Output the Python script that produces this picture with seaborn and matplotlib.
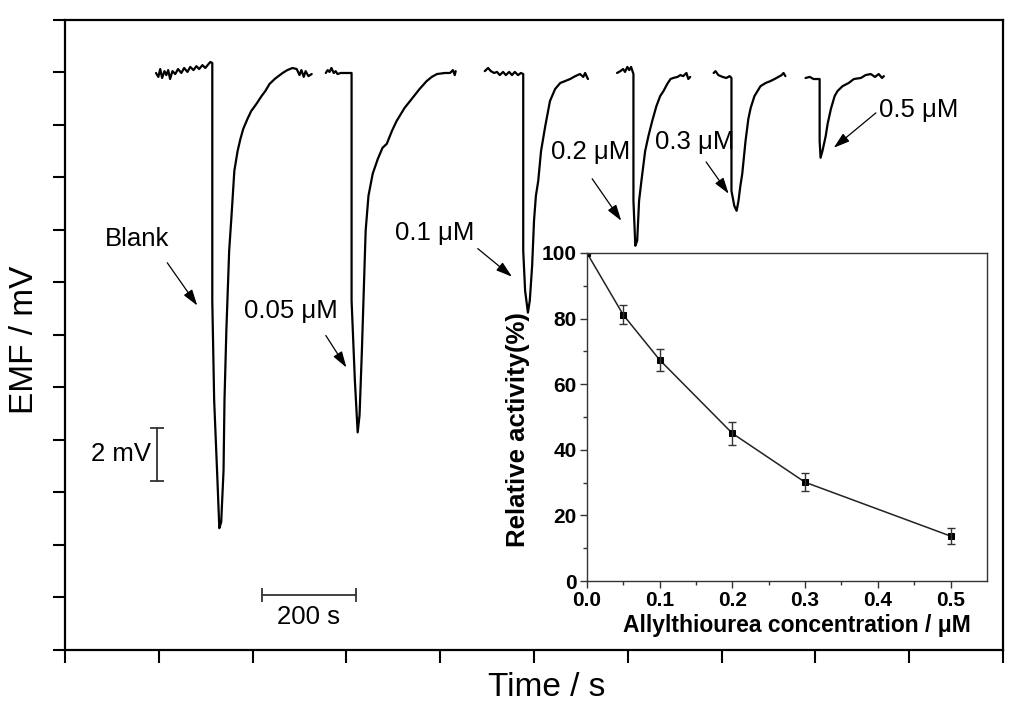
import matplotlib
matplotlib.use("Agg")
import matplotlib.pyplot as plt
import seaborn as sns
import pandas as pd

# traces: time (s) and EMF (mV)
blank_t = [194, 199, 203, 207, 212, 216, 220, 224, 229, 235, 241, 248, 254, 261, 267, 274, 280, 286, 293, 299, 306, 310, 314,
           314, 318, 325, 329, 333, 338, 340, 344, 350, 355, 361, 368, 374, 380, 389, 397, 408, 419, 427, 436, 447, 455,
           464, 474, 485, 494, 500, 504, 509, 513, 519, 526]
blank_v = [21.98, 21.83, 22.13, 21.79, 22.05, 21.90, 22.09, 21.75, 22.05, 21.94, 22.13, 21.98, 22.17, 22.02, 22.21, 22.09,
           22.24, 22.13, 22.28, 22.17, 22.32, 22.40, 22.36,
           13.31, 9.51, 6.46, 4.64, 4.87, 6.84, 9.51, 12.17, 15.21, 16.54, 18.25, 19.01, 19.47, 19.85, 20.23, 20.53, 20.80,
           21.10, 21.29, 21.56, 21.75, 21.86, 21.98, 22.09, 22.17, 22.13, 21.90, 22.09, 21.83, 22.05, 21.86, 21.94]

c005_t = [556, 560, 564, 568, 573, 577, 581, 588, 596, 611,
          611, 618, 624, 628, 633, 637, 641, 647, 656, 667, 677, 686, 697, 707, 724, 741, 756, 771, 782, 793, 810, 821,
          827, 831, 833]
c005_v = [21.98, 22.09, 22.02, 22.17, 21.98, 22.05, 21.94, 21.98, 21.98, 21.98,
          13.31, 10.27, 8.29, 8.94, 11.41, 13.69, 15.97, 17.30, 18.14, 18.71, 19.13, 19.28, 19.77, 20.15, 20.65, 21.03,
          21.37, 21.67, 21.83, 21.94, 21.98, 21.98, 22.09, 21.90, 22.05]

c01_t = [895, 902, 908, 915, 921, 927, 934, 940, 947, 953, 959, 966, 972, 977,
         977, 981, 987, 991, 996, 1000, 1004, 1009, 1015, 1024, 1034, 1045, 1056, 1066, 1077, 1088, 1098, 1105, 1109, 1115]
c01_v = [22.05, 22.17, 22.05, 21.98, 22.02, 21.90, 22.02, 21.90, 22.02, 21.90, 22.02, 21.90, 21.98, 21.94,
         15.21, 13.69, 12.85, 13.31, 14.64, 16.35, 17.30, 17.87, 19.01, 19.96, 20.91, 21.37, 21.60, 21.67, 21.75, 21.86,
         21.94, 21.83, 21.98, 21.75]

c02_t = [1177, 1184, 1190, 1194, 1199, 1203, 1207, 1212,
         1212, 1216, 1220, 1224, 1229, 1237, 1244, 1252, 1261, 1269, 1276, 1284, 1291, 1297, 1306, 1312, 1318, 1325,
         1329, 1333]
c02_v = [21.98, 22.05, 22.13, 22.02, 22.21, 22.09, 22.21, 21.94,
         17.11, 15.40, 15.59, 17.11, 17.87, 19.01, 19.58, 20.15, 20.72, 21.10, 21.29, 21.56, 21.75, 21.79, 21.83, 21.90,
         21.86, 21.98, 21.75, 21.83]

c03_t = [1383, 1387, 1393, 1402, 1410, 1417, 1421,
         1421, 1427, 1432, 1436, 1440, 1444, 1451, 1457, 1462, 1470, 1483, 1494, 1504, 1513, 1521, 1528, 1532, 1536]
c03_v = [21.98, 22.05, 21.90, 21.83, 21.79, 21.86, 21.79,
         17.49, 16.92, 16.73, 17.11, 17.68, 18.14, 19.39, 20.23, 20.65, 21.10, 21.48, 21.60, 21.67, 21.75, 21.83, 21.90,
         21.98, 21.86]

c05_t = [1579, 1588, 1596, 1603, 1609,
         1609, 1611, 1615, 1622, 1626, 1633, 1641, 1647, 1658, 1671, 1682, 1697, 1707, 1718, 1727, 1735, 1742, 1746]
c05_v = [21.79, 21.83, 21.75, 21.75, 21.75,
         19.39, 18.75, 19.01, 19.58, 20.04, 20.61, 21.10, 21.29, 21.48, 21.60, 21.75, 21.79, 21.90, 21.94, 21.83, 21.94,
         21.79, 21.86]

traces = [(blank_t, blank_v), (c005_t, c005_v), (c01_t, c01_v), (c02_t, c02_v), (c03_t, c03_v), (c05_t, c05_v)]

# labels: text, text position, arrow start, arrow tip (time, mV)
labels = ["Blank", "0.05 μM", "0.1 μM", "0.2 μM", "0.3 μM", "0.5 μM"]
label_pos = [(153, 15.67), (481, 12.93), (788, 15.89), (1120, 18.97), (1342, 19.35), (1820, 20.57)]
arrow_from = [(218, 14.75), (556, 11.98), (880, 15.29), (1124, 17.95), (1367, 18.59), (1729, 20.46)]
arrow_to = [(282, 13.12), (600, 10.76), (953, 14.22), (1186, 16.35), (1415, 17.38), (1639, 19.13)]

# inset data
conc = [0.0, 0.05, 0.1, 0.2, 0.3, 0.5]
activity = [100, 81.1, 67.4, 45.0, 30.1, 13.7]
act_err = [0, 2.9, 3.4, 3.45, 2.8, 2.4]

sns.set_style("ticks")
plt.rcParams['font.family'] = ['Liberation Sans', 'DejaVu Sans']
plt.rcParams['text.color'] = 'black'
plt.rcParams['axes.labelcolor'] = 'black'
plt.rcParams['xtick.color'] = 'black'
plt.rcParams['ytick.color'] = 'black'

fig = plt.figure(figsize=(10.24, 7.23), dpi=100)
ax = fig.add_axes([0.0635, 0.101, 0.916, 0.8714])

for t, v in traces:
    sns.lineplot(x=t, y=v, ax=ax, color="black", lw=1.6, sort=False, estimator=None)

for lab, p, a, b in zip(labels, label_pos, arrow_from, arrow_to):
    ax.text(p[0], p[1], lab, fontsize=18.5, ha="center", va="center")
    ax.annotate("", xy=b, xytext=a,
                arrowprops=dict(arrowstyle="-|>,head_length=0.7,head_width=0.22", color="black",
                                lw=0.9, mutation_scale=14, shrinkA=0, shrinkB=0))

# scale bars
ax.plot([197, 197], [6.43, 8.44], color="#333333", lw=1.3)
ax.plot([197, 197], [6.43, 8.44], color="#333333", lw=0, marker="_", ms=10, mew=1.3)
ax.text(184, 7.45, "2 mV", fontsize=18.5, ha="right", va="center")
ax.plot([419, 620], [2.09, 2.09], color="#333333", lw=1.3)
ax.plot([419, 620], [2.09, 2.09], color="#333333", lw=0, marker="|", ms=10, mew=1.3)
ax.text(519, 1.25, "200 s", fontsize=18.5, ha="center", va="center")

ax.set_xlim(0, 2000)
ax.set_ylim(0, 24)
ax.set_xticks(range(0, 2001, 200))
ax.set_yticks(range(0, 25, 2))
ax.set_xticklabels([])
ax.set_yticklabels([])
ax.tick_params(direction="out", length=9, width=1.5, color="black")
for s in ax.spines.values():
    s.set_visible(True)
    s.set_linewidth(1.6)
    s.set_color("black")
ax.set_xlabel("Time / s", fontsize=24)
ax.set_ylabel("EMF / mV", fontsize=24)
ax.xaxis.set_label_coords(0.514, -0.035)
ax.yaxis.set_label_coords(-0.027, 0.492)

# inset
ins = fig.add_axes([0.5732, 0.1964, 0.3906, 0.4537])
sns.lineplot(x=conc, y=activity, ax=ins, color="#222222", lw=1.1, marker="s", markersize=5,
             markeredgecolor="black", markerfacecolor="black")
ins.errorbar(conc, activity, yerr=act_err, fmt="none", ecolor="#333333", elinewidth=1, capsize=3, capthick=1)
ins.set_xlim(0, 0.55)
ins.set_ylim(0, 100)
ins.set_xticks([0, 0.1, 0.2, 0.3, 0.4, 0.5])
ins.set_xticks([0.05, 0.15, 0.25, 0.35, 0.45], minor=True)
ins.set_yticks([0, 20, 40, 60, 80, 100])
ins.set_yticks([10, 30, 50, 70, 90], minor=True)
ins.set_xticklabels(["0.0", "0.1", "0.2", "0.3", "0.4", "0.5"])
ins.tick_params(which="major", direction="out", length=5, width=1, color="#333333", labelsize=15, pad=2.5)
ins.tick_params(which="minor", direction="out", length=3, width=1, color="#333333")
for lab in ins.get_xticklabels() + ins.get_yticklabels():
    lab.set_fontweight("bold")
for s in ins.spines.values():
    s.set_visible(True)
    s.set_linewidth(1.0)
    s.set_color("#333333")
ins.set_xlabel("Allylthiourea concentration / μM", fontsize=16.5, fontweight="bold")
ins.set_ylabel("Relative activity(%)", fontsize=18.5, fontweight="bold")
ins.xaxis.set_label_coords(0.526, -0.1)
ins.yaxis.set_label_coords(-0.1425, 0.463)

fig.savefig("out.png", dpi=100)
